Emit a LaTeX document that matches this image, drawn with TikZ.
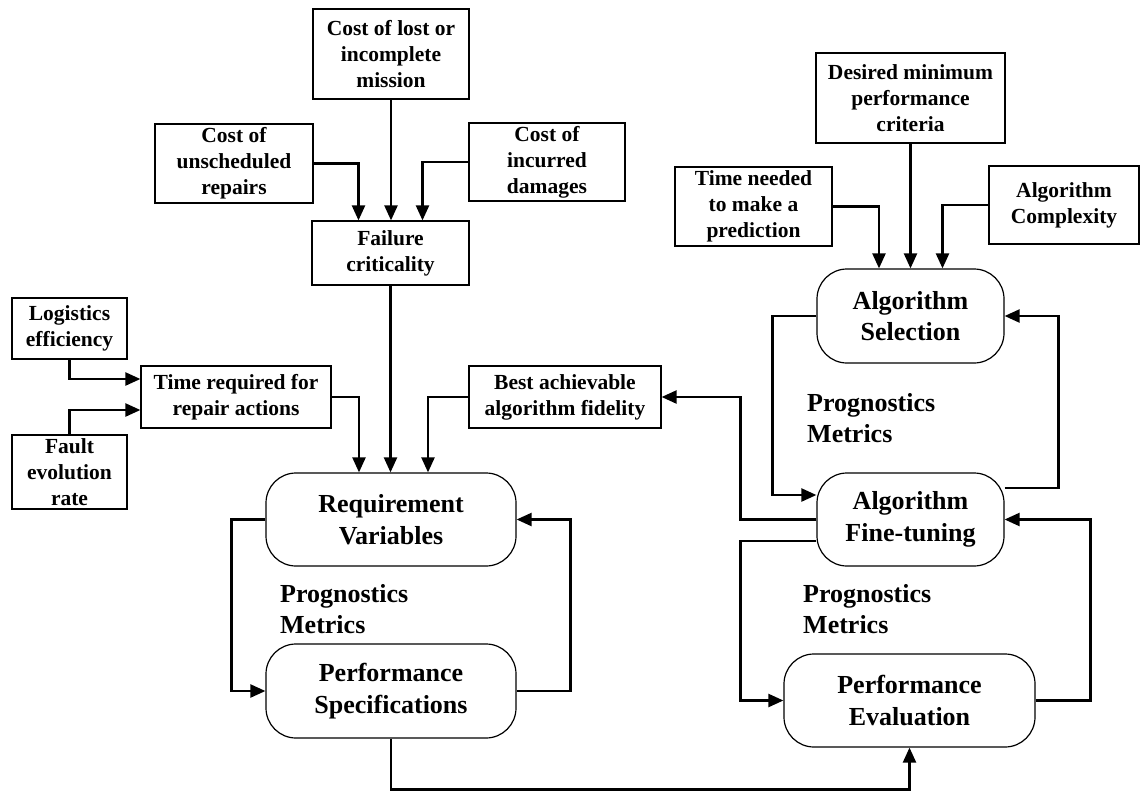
\documentclass[tikz,border=0pt]{standalone}
\usepackage{fontspec}
\setmainfont{Liberation Serif}
\usetikzlibrary{arrows.meta}
\begin{document}
\begin{tikzpicture}[x=1pt,y=-1pt,
  smallbox/.style={draw,line width=1.2pt,rectangle,inner sep=0pt,align=center,
    font=\fontsize{21.5}{26}\selectfont\bfseries},
  roundbox/.style={draw,line width=1.2pt,rectangle,rounded corners=30pt,inner sep=0pt,align=center,
    font=\fontsize{26}{31.5}\selectfont\bfseries},
  metric/.style={inner sep=0pt,align=left,anchor=west,
    font=\fontsize{26}{31.5}\selectfont\bfseries},
  link/.style={line width=2.3pt,-{Triangle[length=15pt,width=13pt]}}]
\useasboundingbox (0,0) rectangle (1140,792);

% ---- left cluster: requirement inputs ----
\node[smallbox,minimum width=156pt,minimum height=90pt] (mission) at (391,54) {Cost of lost or\\incomplete\\mission};
\node[smallbox,minimum width=158pt,minimum height=79pt] (unsched) at (234,163.5) {Cost of\\unscheduled\\repairs};
\node[smallbox,minimum width=156pt,minimum height=78pt] (damages) at (547,162) {Cost of\\incurred\\damages};
\node[smallbox,minimum width=157pt,minimum height=64pt] (fcrit) at (390.5,253) {Failure\\criticality};
\node[smallbox,minimum width=115pt,minimum height=61pt] (logis) at (69.5,328.5) {Logistics\\efficiency};
\node[smallbox,minimum width=190pt,minimum height=62pt] (treq) at (236,397) {Time required for\\repair actions};
\node[smallbox,minimum width=115pt,minimum height=74pt] (fault) at (69.5,472) {Fault\\evolution\\rate};
\node[smallbox,minimum width=192pt,minimum height=62pt] (best) at (565,397) {Best achievable\\algorithm fidelity};

\node[roundbox,minimum width=250pt,minimum height=93pt] (reqvar) at (391,519.5) {Requirement\\Variables};
\node[roundbox,minimum width=250pt,minimum height=94pt] (perfspec) at (391,691) {Performance\\Specifications};
\node[metric] (pmleft) at (280,609) {Prognostics\\Metrics};

% ---- right cluster: algorithm development ----
\node[smallbox,minimum width=189pt,minimum height=90pt] (desired) at (910.5,98) {Desired minimum\\performance\\criteria};
\node[smallbox,minimum width=157pt,minimum height=79pt] (tneed) at (753.5,206.5) {Time needed\\to make a\\prediction};
\node[smallbox,minimum width=150pt,minimum height=78pt] (complex) at (1064,205) {Algorithm\\Complexity};

\node[roundbox,minimum width=187pt,minimum height=94pt] (algsel) at (910.5,316) {Algorithm\\Selection};
\node[roundbox,minimum width=187pt,minimum height=93pt] (algft) at (910.5,519.5) {Algorithm\\Fine-tuning};
\node[roundbox,minimum width=251pt,minimum height=93pt] (perfeval) at (909.5,700.5) {Performance\\Evaluation};
\node[metric] (pmtop) at (807,418) {Prognostics\\Metrics};
\node[metric] (pmlow) at (803,609) {Prognostics\\Metrics};

% ---- connectors, left ----
\draw[link] (mission.south) -- (mission.south |- fcrit.north);
\draw[link] (unsched.east) -| ([xshift=-32pt]fcrit.north);
\draw[link] (damages.west) -| ([xshift=32pt]fcrit.north);
\draw[link] (fcrit.south) -- (fcrit.south |- reqvar.north);
\draw[link] (logis.south) |- ([yshift=18pt]treq.west);
\draw[link] (fault.north) |- ([yshift=-13pt]treq.west);
\draw[link] (treq.east) -| ([xshift=-32pt]reqvar.north);
\draw[link] (best.west) -| ([xshift=37pt]reqvar.north);
\draw[link] (reqvar.west) -- ++(-34,0) |- (perfspec.west);
\draw[link] (perfspec.east) -- ++(54,0) |- (reqvar.east);
\draw[link] (perfspec.south) -- ++(0,51) -| (perfeval.south);

% ---- connectors, right ----
\draw[link] (tneed.east) -| ([xshift=-31.5pt]algsel.north);
\draw[link] (desired.south) -- (algsel.north);
\draw[link] (complex.west) -| ([xshift=32pt]algsel.north);
\draw[link] (algsel.west) -- ++(-44,0) |- ([yshift=24.5pt]algft.west);
\draw[link] ([yshift=31.5pt]algft.east) -- ++(54,0) |- (algsel.east);
\draw[link] (algft.west) -- ++(-76,0) |- (best.east);
\draw[link] ([yshift=-21.5pt]algft.west) -- ++(-76,0) |- (perfeval.west);
\draw[link] (perfeval.east) -- ++(55,0) |- (algft.east);
\end{tikzpicture}
\end{document}
